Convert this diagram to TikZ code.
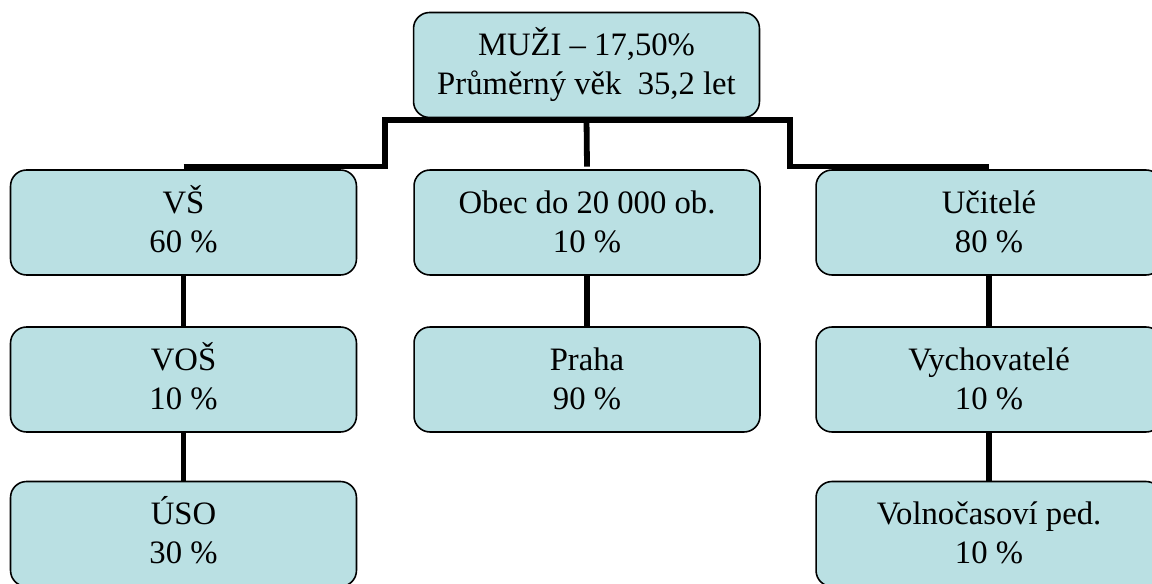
\documentclass[tikz,border=0pt]{standalone}
\usepackage{fontspec}
\setmainfont{Liberation Serif}
\usepackage{tikz}
\usetikzlibrary{positioning, calc}
\definecolor{boxfill}{RGB}{186,224,227}
\newcommand{\boxtext}[2]{\rule{0pt}{17.4pt}#1\\#2\rule[-6pt]{0pt}{6pt}}

\begin{document}
\begin{tikzpicture}[
    x=0.02cm, y=-0.02cm,
    box/.style={draw, line width=0.9pt, rounded corners=0.32cm, fill=boxfill, align=center,
        minimum width=6.92cm, minimum height=2.1cm, inner sep=0pt,
        font=\fontsize{18.6}{22.2}\selectfont},
    link/.style={line width=3.3pt}
]
    \useasboundingbox (0,0) rectangle (1152,584);
    \clip (0,0) rectangle (1152,584);

    \coordinate (busL) at (385,120);
    \coordinate (busR) at (790,120);

    \draw[link] (183.5,222) -- (183.5,380);
    \draw[link] (183.5,380) -- (183.5,534);
    \draw[link] (587,222) -- (587,380);
    \draw[link] (989,222) -- (989,380);
    \draw[link] (989,380) -- (989,534);

    \node[box] (muzi) at (586.5,65) {\boxtext{MUŽI – 17,50\%}{Průměrný věk~~35,2 let}};
    \node[box] (vs) at (183.5,222.5) {\boxtext{VŠ}{60 \%}};
    \node[box] (obec) at (587,222.5) {\boxtext{Obec do 20~000 ob.}{10 \%}};
    \node[box] (ucitele) at (989,222.5) {\boxtext{Učitelé}{80 \%}};
    \node[box] (vos) at (183.5,379.5) {\boxtext{VOŠ}{10 \%}};
    \node[box] (praha) at (587,379.5) {\boxtext{Praha}{90 \%}};
    \node[box] (vych) at (989,379.5) {\boxtext{Vychovatelé}{10 \%}};
    \node[box] (uso) at (183.5,534) {\boxtext{ÚSO}{30 \%}};
    \node[box] (volno) at (989,534) {\boxtext{Volnočasoví ped.}{10 \%}};

    \draw[link] ([yshift=1.5pt]vs.north) -| (busL) -- (busR) |- ([yshift=1.5pt]ucitele.north);
    \draw[link] (muzi.south) -- ([yshift=1.5pt]obec.north);
\end{tikzpicture}
\end{document}
